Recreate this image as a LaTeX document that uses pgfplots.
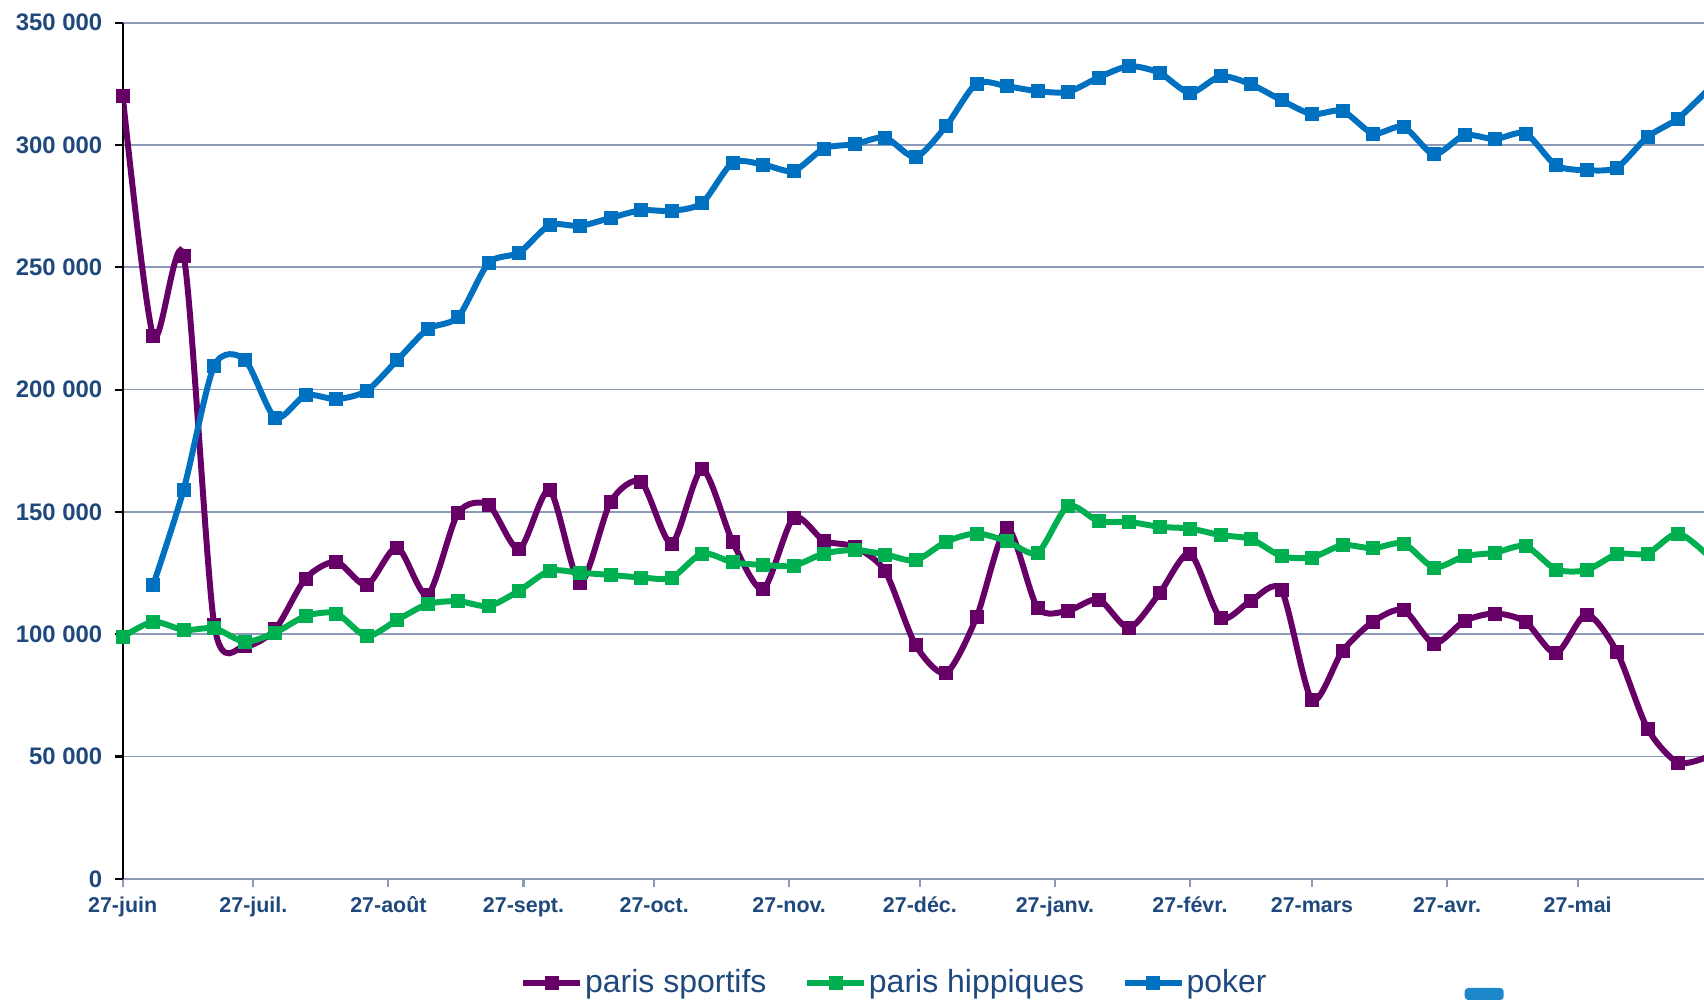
\documentclass[border=0pt]{standalone}
\usepackage{fontspec}
\setmainfont{Liberation Sans}
\usepackage{pgfplots}
\pgfplotsset{compat=1.18}
\usepackage{pgfplotstable}

\definecolor{sport}{HTML}{660066}
\definecolor{hipp}{HTML}{00B050}
\definecolor{pok}{HTML}{0070C0}
\definecolor{gridc}{HTML}{8A9AB8}
\definecolor{labc}{HTML}{1F497D}

% weekly counts, x = days since 27 June
\pgfplotstableread{
day sport hipp
0 320000 98900
7 222000 105100
14 254500 101700
21 104000 102400
28 95100 96900
35 102000 100600
42 122800 107400
49 129600 108500
56 120100 99200
63 135500 105800
70 116000 112300
77 149600 113500
84 152800 111500
91 134700 117800
98 158900 125900
105 121000 125100
112 154100 124200
119 162300 123200
126 137100 123100
133 167400 133000
140 137800 129400
147 118400 128300
154 147600 128000
161 138200 133000
168 135700 134400
175 125800 132600
182 95600 130200
189 84200 137800
196 106900 141200
203 143500 138000
210 110800 133300
217 109600 152400
224 114200 146200
231 102600 145900
238 116700 143900
245 133000 143200
252 106700 140500
259 113700 138900
266 118000 131900
273 73100 131400
280 93100 136400
287 105100 135100
294 109900 137100
301 96200 127300
308 105400 131900
315 108500 133300
322 105100 136000
329 92200 126500
336 108100 126200
343 92800 132700
350 61500 133000
357 47500 141200
364 50000 132000
}\paris

\pgfplotstableread{
day poker
7 120100
14 159200
21 209700
28 212300
35 188500
42 197700
49 196100
56 199500
63 212000
70 224700
77 229700
84 251800
91 256000
98 267200
105 266900
112 270200
119 273300
126 273100
133 276300
140 292700
147 292000
154 289400
161 298600
168 300300
175 303000
182 295100
189 307700
196 325100
203 324000
210 322000
217 321700
224 327600
231 332200
238 329500
245 321300
252 328100
259 324800
266 318300
273 312600
280 313900
287 304700
294 307400
301 296200
308 304000
315 302400
322 304700
329 291700
336 289700
343 290800
350 303300
357 310800
364 322700
}\poker

\begin{document}
\begin{tikzpicture}
\useasboundingbox (-1.227,-1.212) rectangle (15.813,8.788);
\begin{axis}[
  at={(0,0)}, anchor=south west,
  scale only axis, width=15.813cm, height=8.561cm,
  xmin=0, xmax=363, ymin=0, ymax=350000,
  axis x line*=bottom, axis y line*=left,
  x axis line style={gridc, line width=0.7pt},
  y axis line style={black, line width=0.6pt},
  ymajorgrids, grid style={gridc, line width=0.5pt},
  tick align=outside, major tick length=0.08cm,
  ytick style={black, line width=0.6pt},
  xtick style={gridc, line width=0.6pt},
  ytick={0,50000,100000,150000,200000,250000,300000,350000},
  yticklabels={0,50 000,100 000,150 000,200 000,250 000,300 000,350 000},
  xtick={0,30,61,92,122,153,183,214,245,273,304,334},
  xticklabels={27-juin,27-juil.,27-août,27-sept.,27-oct.,27-nov.,27-déc.,27-janv.,27-févr.,27-mars,27-avr.,27-mai},
  yticklabel style={font=\fontsize{6.8}{7}\selectfont\bfseries, text=labc, inner ysep=0pt},
  xticklabel style={font=\fontsize{6.1}{7}\selectfont\bfseries, text=labc,
    text height=0.73em, text depth=0.21em, yshift=0.12cm},
  every axis plot/.append style={line width=1.7pt, smooth, tension=0.45, mark=square*, mark size=0.065cm,
    mark options={solid, line width=0.2pt}},
  legend style={draw=none, fill=none, legend columns=3, at={(0.488,-0.122)}, anchor=center,
    font=\fontsize{9.1}{10}\selectfont, text=labc, nodes={inner xsep=0.5pt},
    /tikz/every even column/.append style={column sep=0.36cm}},
  legend image code/.code={\draw[mark indices={2}] plot coordinates {(0cm,0cm) (0.285cm,0cm) (0.57cm,0cm)};},
]
\addplot[sport, mark indices={1,...,52}] table[x=day, y=sport] {\paris};
\addlegendentry{paris sportifs}
\addplot[hipp, mark indices={1,...,52}] table[x=day, y=hipp] {\paris};
\addlegendentry{paris hippiques}
\addplot[pok, mark indices={1,...,51}] table[x=day, y=poker] {\poker};
\addlegendentry{poker}
\end{axis}
\fill[color={rgb,255:red,28;green,135;blue,201}, rounded corners=1pt] (13.42,-1.212) rectangle (13.81,-1.092);
\end{tikzpicture}
\end{document}
